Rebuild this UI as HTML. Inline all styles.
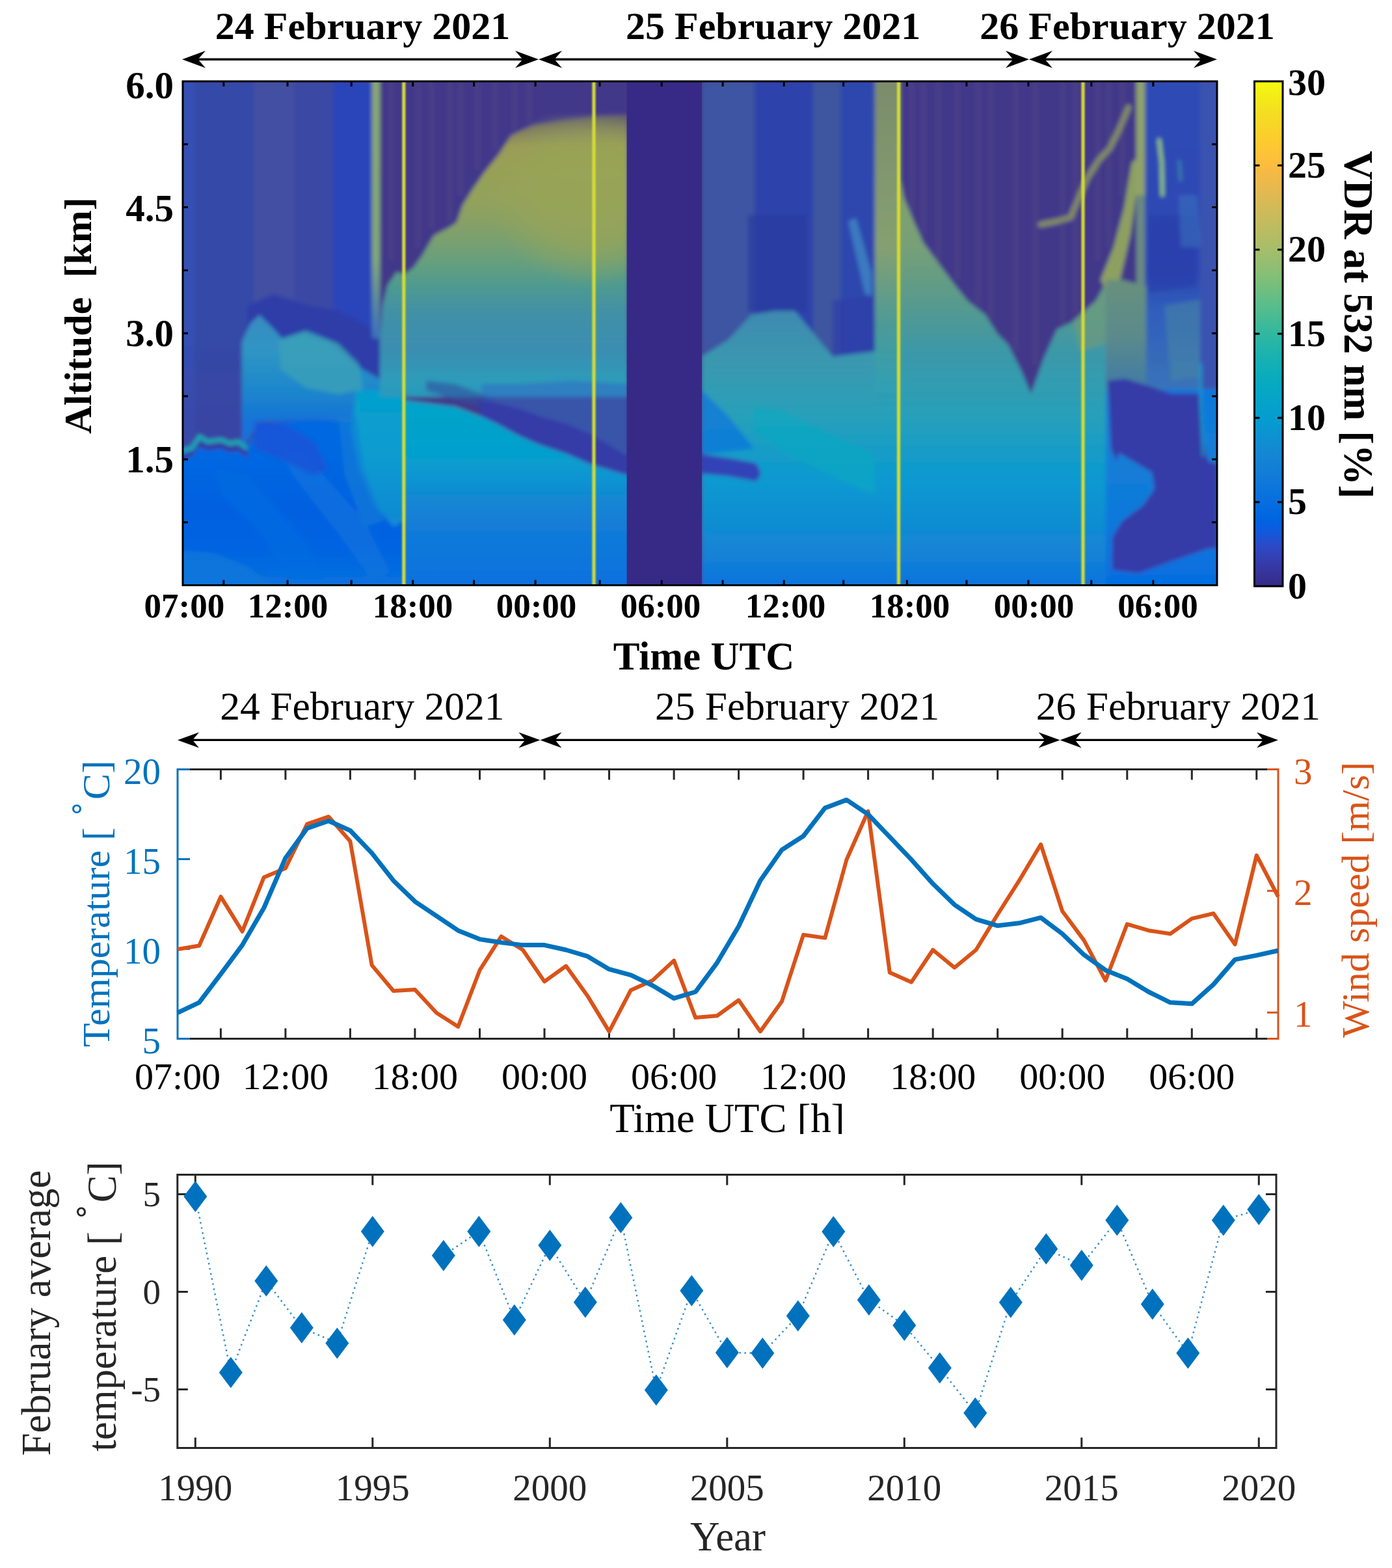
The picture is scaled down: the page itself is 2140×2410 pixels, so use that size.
<!DOCTYPE html>
<html><head><meta charset="utf-8"><title>Figure</title>
<style>html,body{margin:0;padding:0;background:#fff;}svg{display:block;}</style>
</head><body>
<svg width="2140" height="2410" viewBox="0 0 2140 2410" font-family="'Liberation Serif', 'Times New Roman', serif">
<rect width="2140" height="2410" fill="#fff"/>
<defs><linearGradient id="g1" gradientUnits="userSpaceOnUse" x1="0" y1="100" x2="0" y2="690"><stop offset="0.0000" stop-color="#3650b4"/><stop offset="0.6780" stop-color="#3650b4"/><stop offset="1.0000" stop-color="#3848a8"/></linearGradient><linearGradient id="g2" gradientUnits="userSpaceOnUse" x1="0" y1="100" x2="0" y2="690"><stop offset="0.0000" stop-color="#3449a8"/><stop offset="0.6441" stop-color="#3449a8"/><stop offset="1.0000" stop-color="#3a44a2"/></linearGradient><linearGradient id="g3" gradientUnits="userSpaceOnUse" x1="0" y1="480" x2="0" y2="648"><stop offset="0.0000" stop-color="#3a8ac0"/><stop offset="0.3571" stop-color="#2f95c4"/><stop offset="0.7143" stop-color="#1d86cc"/><stop offset="1.0000" stop-color="#1573d8"/></linearGradient><linearGradient id="g4" gradientUnits="userSpaceOnUse" x1="0" y1="640" x2="0" y2="899"><stop offset="0.0000" stop-color="#0269e1"/><stop offset="0.2317" stop-color="#0267e1"/><stop offset="0.5405" stop-color="#0661e0"/><stop offset="0.7722" stop-color="#0363e1"/><stop offset="0.9073" stop-color="#036be0"/><stop offset="1.0000" stop-color="#0a72de"/></linearGradient><linearGradient id="g5" gradientUnits="userSpaceOnUse" x1="0" y1="600" x2="0" y2="800"><stop offset="0.0000" stop-color="#06a0cd"/><stop offset="0.5000" stop-color="#089bd0"/><stop offset="1.0000" stop-color="#128ad3"/></linearGradient><linearGradient id="g6" gradientUnits="userSpaceOnUse" x1="0" y1="100" x2="0" y2="520"><stop offset="0.0000" stop-color="#8aa870"/><stop offset="0.7143" stop-color="#82a878"/><stop offset="1.0000" stop-color="#3a70c0"/></linearGradient><linearGradient id="g7" gradientUnits="userSpaceOnUse" x1="0" y1="176" x2="0" y2="610"><stop offset="0.0000" stop-color="#5a5570"/><stop offset="0.0553" stop-color="#807c62"/><stop offset="0.1129" stop-color="#9a9c56"/><stop offset="0.1935" stop-color="#98a056"/><stop offset="0.3088" stop-color="#92a25c"/><stop offset="0.4009" stop-color="#84a068"/><stop offset="0.5161" stop-color="#68a07c"/><stop offset="0.6083" stop-color="#4e9a90"/><stop offset="0.7005" stop-color="#4290a6"/><stop offset="0.8387" stop-color="#3a8eb2"/><stop offset="0.9424" stop-color="#2e9cba"/><stop offset="1.0000" stop-color="#2a98bc"/></linearGradient><radialGradient id="ycore" gradientUnits="userSpaceOnUse" cx="0" cy="0" r="1" gradientTransform="translate(905,300) scale(150,140)"><stop offset="0" stop-color="#98a558" stop-opacity="0.9"/><stop offset="0.55" stop-color="#98a558" stop-opacity="0.7"/><stop offset="1" stop-color="#98a558" stop-opacity="0"/></radialGradient><linearGradient id="g8" gradientUnits="userSpaceOnUse" x1="0" y1="615" x2="0" y2="899"><stop offset="0.0000" stop-color="#06a4c9"/><stop offset="0.2993" stop-color="#06a0cd"/><stop offset="0.4225" stop-color="#0b95d2"/><stop offset="0.5458" stop-color="#1486d3"/><stop offset="0.6866" stop-color="#127cd8"/><stop offset="0.8275" stop-color="#0f77db"/><stop offset="1.0000" stop-color="#0971de"/></linearGradient><linearGradient id="g9" gradientUnits="userSpaceOnUse" x1="0" y1="478" x2="0" y2="899"><stop offset="0.0000" stop-color="#3d8ab0"/><stop offset="0.1948" stop-color="#3a98b0"/><stop offset="0.3848" stop-color="#28a0ba"/><stop offset="0.6223" stop-color="#0899d1"/><stop offset="0.7648" stop-color="#108ed2"/><stop offset="0.8836" stop-color="#1483d5"/><stop offset="1.0000" stop-color="#0c74dd"/></linearGradient><linearGradient id="g10" gradientUnits="userSpaceOnUse" x1="0" y1="260" x2="0" y2="899"><stop offset="0.0000" stop-color="#8aa068"/><stop offset="0.1878" stop-color="#76a078"/><stop offset="0.3130" stop-color="#5a9a8c"/><stop offset="0.4382" stop-color="#3c98a8"/><stop offset="0.5947" stop-color="#28a0ba"/><stop offset="0.7512" stop-color="#0899d1"/><stop offset="0.8451" stop-color="#108ed2"/><stop offset="0.9233" stop-color="#1483d5"/><stop offset="1.0000" stop-color="#0c74dd"/></linearGradient><linearGradient id="g11" gradientUnits="userSpaceOnUse" x1="0" y1="100" x2="0" y2="600"><stop offset="0.0000" stop-color="#7a8a6c"/><stop offset="0.5600" stop-color="#86a070"/><stop offset="0.8000" stop-color="#4c9a98"/><stop offset="1.0000" stop-color="#30a0b4"/></linearGradient><linearGradient id="g12" gradientUnits="userSpaceOnUse" x1="0" y1="100" x2="0" y2="600"><stop offset="0.0000" stop-color="#2f4cb6"/><stop offset="0.4000" stop-color="#2e4ab4"/><stop offset="0.6400" stop-color="#2c46b0"/><stop offset="0.7400" stop-color="#2f5cbc"/><stop offset="1.0000" stop-color="#3a74b8"/></linearGradient><linearGradient id="g13" gradientUnits="userSpaceOnUse" x1="0" y1="598" x2="0" y2="899"><stop offset="0.0000" stop-color="#0f77db"/><stop offset="0.3389" stop-color="#137ed7"/><stop offset="0.6711" stop-color="#1079da"/><stop offset="0.9037" stop-color="#0871de"/><stop offset="1.0000" stop-color="#056de0"/></linearGradient><linearGradient id="g14" gradientUnits="userSpaceOnUse" x1="0" y1="598" x2="0" y2="899"><stop offset="0.0000" stop-color="#137fd6"/><stop offset="0.3389" stop-color="#137ed7"/><stop offset="0.6711" stop-color="#1079da"/><stop offset="0.9037" stop-color="#0871de"/><stop offset="1.0000" stop-color="#056de0"/></linearGradient><linearGradient id="g15" gradientUnits="userSpaceOnUse" x1="0" y1="430" x2="0" y2="600"><stop offset="0.0000" stop-color="#68907c"/><stop offset="0.5294" stop-color="#5a8a8c"/><stop offset="1.0000" stop-color="#3f7aa8"/></linearGradient><clipPath id="lc"><rect x="281.0" y="125.0" width="1590.0" height="774.5"/></clipPath><filter id="lb" x="-5%" y="-5%" width="110%" height="110%"><feGaussianBlur stdDeviation="3"/></filter><filter id="yb" x="-50%" y="-5%" width="200%" height="110%"><feGaussianBlur stdDeviation="0.9"/></filter></defs>
<g clip-path="url(#lc)"><g filter="url(#lb)">
<rect x="260" y="100" width="1640" height="820" fill="#42398a"/>
<rect x="260" y="100" width="40" height="600" fill="url(#g1)"/>
<rect x="300" y="100" width="90" height="600" fill="url(#g2)"/>
<rect x="390" y="100" width="62" height="420" fill="#4350a3"/>
<rect x="452" y="100" width="60" height="420" fill="#3a48a4"/>
<rect x="512" y="100" width="60" height="420" fill="#2b45ba"/>
<polygon points="380,470 420,452 470,468 520,478 560,498 585,520 585,600 548,580 520,545 480,522 430,522 400,505 380,525" fill="#2d3ca8"/>
<polygon points="372,525 385,497 399,484 420,505 434,521 466,513 505,525 530,545 544,560 583,582 600,600 600,700 548,650 480,645 399,648 372,690" fill="url(#g3)"/>
<polygon points="428,522 470,508 520,528 552,560 558,598 520,606 470,596 432,568" fill="#3aa0b8" opacity="0.85"/>
<polygon points="260,688 380,688 400,650 480,645 548,650 600,640 621,640 621,920 260,920" fill="url(#g4)"/>
<polygon points="430,690 470,700 560,800 600,880 570,890 520,820 450,730" fill="#0c74dd" opacity="0.6"/>
<polygon points="330,720 380,730 470,830 500,899 450,899 400,820 340,760" fill="#056de0" opacity="0.5"/>
<polygon points="260,845 330,850 380,870 420,899 260,920" fill="#0f77db" opacity="0.8"/>
<polygon points="391,648 440,652 484,680 505,722 480,730 430,705 391,690" fill="#1b55d7" opacity="0.9"/>
<polygon points="548,600 621,600 621,800 605,810 575,775 552,720 540,660" fill="url(#g5)"/>
<polygon points="520,640 548,640 560,720 590,800 560,810 530,730" fill="#137fd6" opacity="0.6"/>
<polyline points="281,702 293,698 305,680 319,688 340,685 354,691 366,688 378,697" fill="none" stroke="#3637a1" stroke-width="8" stroke-linejoin="round" stroke-linecap="round"/>
<polyline points="281,693 295,689 307,671 319,679 340,676 354,682 366,679 378,688" fill="none" stroke="#11afb8" stroke-width="6" stroke-linejoin="round" stroke-linecap="round"/>
<rect x="572" y="100" width="12" height="420" fill="url(#g6)"/>
<polygon points="584,520 588,470 596,438 610,418 621,422 635,412 649,393 667,362 690,350 702,342 711,316 726,292 744,266 768,236 786,208 820,192 860,186 910,180 965,176 965,610 584,610" fill="url(#g7)"/>
<polygon points="700,180 965,176 965,450 700,450" fill="url(#ycore)"/>
<polygon points="740,590 800,590 880,585 965,590 965,700 909,684 872,665 830,648 798,636 760,625 740,615" fill="#2f6cc4" opacity="0.55"/>
<polygon points="655,585 700,590 765,615 740,625 700,615 655,600" fill="#3050a0" opacity="0.6"/>
<polygon points="735,615 765,620 798,628 830,640 872,652 909,668 963,700 970,702 970,731 963,730 909,714 872,698 830,684 798,670 765,652 740,640" fill="#363aa7"/>
<polygon points="621,615 700,625 740,640 765,652 798,670 830,684 872,698 909,714 963,730 970,731 970,920 621,920" fill="url(#g8)"/>
<rect x="1079" y="100" width="81" height="460" fill="#3c55a2"/>
<rect x="1160" y="100" width="90" height="420" fill="#2d42ac"/>
<rect x="1250" y="100" width="42" height="460" fill="#3d569f"/>
<rect x="1292" y="100" width="53" height="460" fill="#2f46ae"/>
<polygon points="1150,330 1240,330 1240,480 1150,480" fill="#2a3aa0" opacity="0.7"/>
<polygon points="1304,340 1316,335 1340,420 1340,455 1330,452" fill="#3a7ac0"/>
<polygon points="1280,462 1345,455 1345,548 1280,548" fill="#2d40a8" opacity="0.8"/>
<polygon points="1079,548 1120,522 1155,484 1190,478 1222,478 1241,501 1280,548 1345,540 1345,920 1079,920" fill="url(#g9)"/>
<polygon points="1157,625 1200,630 1345,700 1345,760 1300,742 1200,692 1157,662" fill="#07aac1" opacity="0.6"/>
<polygon points="1079,698 1120,704 1163,712 1170,728 1163,740 1120,732 1079,728" fill="#3342b7"/>
<polygon points="1079,600 1120,640 1160,690 1079,698" fill="#0b73dd" opacity="0.7"/>
<rect x="1345" y="260" width="355" height="660" fill="url(#g10)"/>
<rect x="1345" y="100" width="39" height="500" fill="url(#g11)"/>
<polygon points="1384,100 1752,100 1748,200 1740,260 1730,320 1718,380 1705,425 1685,462 1655,492 1625,506 1605,550 1585,606 1570,570 1550,530 1533,513 1515,484 1488,463 1467,437 1449,413 1420,374 1405,341 1390,305 1384,275" fill="#42398a"/>
<polygon points="1692,430 1700,445 1722,430 1738,360 1748,290 1752,240 1740,250 1728,320 1712,380" fill="#8ea060"/>
<rect x="1747" y="100" width="14" height="200" fill="#90a468"/>
<rect x="1747" y="300" width="14" height="160" fill="#6a8a80"/>
<polygon points="1650,492 1685,462 1700,440 1720,440 1725,520 1660,540" fill="#6a9a80" opacity="0.8"/>
<polyline points="1600,345 1625,340 1646,334 1661,298 1672,273 1690,245 1706,228 1720,200 1735,165" fill="none" stroke="#8a9460" stroke-width="9" stroke-linejoin="round" stroke-linecap="round" stroke-opacity="0.9"/>
<rect x="1760" y="100" width="140" height="500" fill="url(#g12)"/>
<polygon points="1766,330 1838,330 1838,440 1766,450" fill="#2a3ca8" opacity="0.55"/>
<polygon points="1812,300 1840,300 1846,380 1815,380" fill="#3a78c0" opacity="0.5"/>
<polygon points="1790,470 1845,460 1845,580 1800,585" fill="#4a8aa0" opacity="0.5"/>
<rect x="1845" y="100" width="55" height="500" fill="#3a52b0"/>
<polyline points="1782,215 1786,250 1787,300" fill="none" stroke="#9ad060" stroke-width="5" stroke-linejoin="round" stroke-linecap="round"/>
<polyline points="1813,248 1815,277" fill="none" stroke="#3aa0a0" stroke-width="4" stroke-linejoin="round" stroke-linecap="round" stroke-opacity="0.7"/>
<rect x="1762" y="598" width="138" height="322" fill="url(#g13)"/>
<rect x="1700" y="598" width="62" height="322" fill="url(#g14)"/>
<polygon points="1700,430 1725,430 1762,440 1762,600 1700,600" fill="url(#g15)"/>
<polygon points="1703,585 1730,582 1762,592 1800,605 1845,605 1850,676 1858,710 1872,712 1872,843 1858,843 1800,863 1750,881 1710,876 1710,826 1725,801 1758,776 1775,751 1771,726 1720,696 1717,710 1708,690" fill="#363aa7"/>
<polyline points="1846,560 1846,620 1850,700" fill="none" stroke="#06a4c9" stroke-width="4" stroke-linejoin="round" stroke-linecap="round" stroke-opacity="0.8"/>
<rect x="600" y="100" width="3" height="300" fill="#7a7a70" opacity="0.25"/>
<rect x="641" y="100" width="3" height="280" fill="#7a7a70" opacity="0.25"/>
<rect x="662" y="100" width="3" height="250" fill="#7a7a70" opacity="0.25"/>
<rect x="690" y="100" width="3" height="240" fill="#7a7a70" opacity="0.25"/>
<rect x="707" y="100" width="3" height="200" fill="#7a7a70" opacity="0.25"/>
<rect x="733" y="100" width="3" height="160" fill="#7a7a70" opacity="0.25"/>
<rect x="760" y="100" width="3" height="130" fill="#7a7a70" opacity="0.25"/>
<rect x="790" y="100" width="3" height="100" fill="#7a7a70" opacity="0.25"/>
<rect x="812" y="100" width="3" height="90" fill="#7a7a70" opacity="0.25"/>
<rect x="1400" y="100" width="3" height="230" fill="#7a7a70" opacity="0.25"/>
<rect x="1418" y="100" width="3" height="260" fill="#7a7a70" opacity="0.25"/>
<rect x="1441" y="100" width="3" height="300" fill="#7a7a70" opacity="0.25"/>
<rect x="1470" y="100" width="3" height="330" fill="#7a7a70" opacity="0.25"/>
<rect x="1502" y="100" width="3" height="370" fill="#7a7a70" opacity="0.25"/>
<rect x="1522" y="100" width="3" height="390" fill="#7a7a70" opacity="0.25"/>
<rect x="1560" y="100" width="3" height="440" fill="#7a7a70" opacity="0.25"/>
<rect x="1590" y="100" width="3" height="460" fill="#7a7a70" opacity="0.25"/>
<rect x="1632" y="100" width="3" height="400" fill="#7a7a70" opacity="0.25"/>
<rect x="1652" y="100" width="3" height="380" fill="#7a7a70" opacity="0.25"/>
<rect x="1686" y="100" width="3" height="300" fill="#7a7a70" opacity="0.25"/>
<rect x="1703" y="100" width="3" height="280" fill="#7a7a70" opacity="0.25"/>
<rect x="1724" y="100" width="3" height="200" fill="#7a7a70" opacity="0.25"/>
</g>
<rect x="963.6" y="125.0" width="115.39999999999998" height="774.5" fill="#372a87"/>
<g filter="url(#yb)"><rect x="618.1999999999999" y="115.0" width="5.2" height="794.5" fill="#d4dc36"/><rect x="910.4" y="115.0" width="5.2" height="794.5" fill="#d4dc36"/><rect x="1378.9" y="115.0" width="5.2" height="794.5" fill="#d4dc36"/><rect x="1662.4" y="115.0" width="5.2" height="794.5" fill="#d4dc36"/></g></g>
<rect x="281.0" y="125.0" width="1590.0" height="774.5" fill="none" stroke="#000" stroke-width="3"/>
<path d="M343.8,125.0v8M343.8,899.5v-8M442.0,125.0v8M442.0,899.5v-8M540.2,125.0v8M540.2,899.5v-8M634.7,125.0v8M634.7,899.5v-8M728.6,125.0v8M728.6,899.5v-8M823.1,125.0v8M823.1,899.5v-8M922.0,125.0v8M922.0,899.5v-8M1017.2,125.0v8M1017.2,899.5v-8M1111.1,125.0v8M1111.1,899.5v-8M1205.2,125.0v8M1205.2,899.5v-8M1296.7,125.0v8M1296.7,899.5v-8M1394.4,125.0v8M1394.4,899.5v-8M1485.9,125.0v8M1485.9,899.5v-8M1581.0,125.0v8M1581.0,899.5v-8M1677.8,125.0v8M1677.8,899.5v-8M1772.9,125.0v8M1772.9,899.5v-8M281.0,802.7h8M1871.0,802.7h-8M281.0,705.9h8M1871.0,705.9h-8M281.0,609.1h8M1871.0,609.1h-8M281.0,512.2h8M1871.0,512.2h-8M281.0,415.4h8M1871.0,415.4h-8M281.0,318.6h8M1871.0,318.6h-8M281.0,221.8h8M1871.0,221.8h-8" stroke="#000" stroke-width="3" fill="none"/>
<text x="283.4" y="949" font-size="53" font-weight="bold" text-anchor="middle">07:00</text>
<text x="442.5" y="949" font-size="53" font-weight="bold" text-anchor="middle">12:00</text>
<text x="634.5" y="949" font-size="53" font-weight="bold" text-anchor="middle">18:00</text>
<text x="824.5" y="949" font-size="53" font-weight="bold" text-anchor="middle">00:00</text>
<text x="1015.5" y="949" font-size="53" font-weight="bold" text-anchor="middle">06:00</text>
<text x="1207.5" y="949" font-size="53" font-weight="bold" text-anchor="middle">12:00</text>
<text x="1398.5" y="949" font-size="53" font-weight="bold" text-anchor="middle">18:00</text>
<text x="1589.5" y="949" font-size="53" font-weight="bold" text-anchor="middle">00:00</text>
<text x="1780.0" y="949" font-size="53" font-weight="bold" text-anchor="middle">06:00</text>
<text x="267" y="150.5" font-size="59" font-weight="bold" text-anchor="end">6.0</text>
<text x="267" y="339.5" font-size="59" font-weight="bold" text-anchor="end">4.5</text>
<text x="267" y="532.0" font-size="59" font-weight="bold" text-anchor="end">3.0</text>
<text x="267" y="725.8" font-size="59" font-weight="bold" text-anchor="end">1.5</text>
<text x="1082" y="1028.5" font-size="61" font-weight="bold" text-anchor="middle">Time UTC</text>
<text transform="translate(140,485) rotate(-90)" x="0" y="0" font-size="60" font-weight="bold" text-anchor="middle" xml:space="preserve">Altitude  [km]</text>
<text x="557.5" y="60" font-size="60" font-weight="bold" text-anchor="middle">24 February 2021</text>
<text x="1188.7" y="60" font-size="60" font-weight="bold" text-anchor="middle">25 February 2021</text>
<text x="1733" y="60" font-size="60" font-weight="bold" text-anchor="middle">26 February 2021</text>
<line x1="290.0" y1="91.25" x2="818.0" y2="91.25" stroke="#000" stroke-width="3.4"/>
<polygon points="280.0,91.2 316.0,78.0 304.4,91.2 316.0,104.5" fill="#000"/>
<polygon points="828.0,91.2 792.0,78.0 803.6,91.2 792.0,104.5" fill="#000"/>
<line x1="838.0" y1="91.25" x2="1572.0" y2="91.25" stroke="#000" stroke-width="3.4"/>
<polygon points="828.0,91.2 864.0,78.0 852.4,91.2 864.0,104.5" fill="#000"/>
<polygon points="1582.0,91.2 1546.0,78.0 1557.6,91.2 1546.0,104.5" fill="#000"/>
<line x1="1592.0" y1="91.25" x2="1861.0" y2="91.25" stroke="#000" stroke-width="3.4"/>
<polygon points="1582.0,91.2 1618.0,78.0 1606.4,91.2 1618.0,104.5" fill="#000"/>
<polygon points="1871.0,91.2 1835.0,78.0 1846.6,91.2 1835.0,104.5" fill="#000"/>
<defs><linearGradient id="cbg" x1="0" y1="1" x2="0" y2="0"><stop offset="0.0000" stop-color="#352a86"/><stop offset="0.0159" stop-color="#353093"/><stop offset="0.0317" stop-color="#36369f"/><stop offset="0.0476" stop-color="#353cac"/><stop offset="0.0635" stop-color="#3143b9"/><stop offset="0.0794" stop-color="#2b4ac6"/><stop offset="0.0952" stop-color="#1f52d3"/><stop offset="0.1111" stop-color="#0f5bdd"/><stop offset="0.1270" stop-color="#0262e0"/><stop offset="0.1429" stop-color="#0168e1"/><stop offset="0.1587" stop-color="#046ce0"/><stop offset="0.1746" stop-color="#0870de"/><stop offset="0.1905" stop-color="#0c74dc"/><stop offset="0.2063" stop-color="#1078da"/><stop offset="0.2222" stop-color="#127cd7"/><stop offset="0.2381" stop-color="#1380d5"/><stop offset="0.2540" stop-color="#1484d3"/><stop offset="0.2698" stop-color="#1389d2"/><stop offset="0.2857" stop-color="#108ed2"/><stop offset="0.3016" stop-color="#0c93d1"/><stop offset="0.3175" stop-color="#0898d1"/><stop offset="0.3333" stop-color="#069ccf"/><stop offset="0.3492" stop-color="#06a0cc"/><stop offset="0.3651" stop-color="#05a3c9"/><stop offset="0.3810" stop-color="#05a6c6"/><stop offset="0.3968" stop-color="#06a9c1"/><stop offset="0.4127" stop-color="#09abbd"/><stop offset="0.4286" stop-color="#0faeb8"/><stop offset="0.4444" stop-color="#15b0b4"/><stop offset="0.4603" stop-color="#1cb2ae"/><stop offset="0.4762" stop-color="#25b4a9"/><stop offset="0.4921" stop-color="#2db7a3"/><stop offset="0.5079" stop-color="#37b89d"/><stop offset="0.5238" stop-color="#41ba97"/><stop offset="0.5397" stop-color="#4dbc91"/><stop offset="0.5556" stop-color="#58bd8b"/><stop offset="0.5714" stop-color="#64be85"/><stop offset="0.5873" stop-color="#70be80"/><stop offset="0.6032" stop-color="#7cbf7b"/><stop offset="0.6190" stop-color="#87bf76"/><stop offset="0.6349" stop-color="#91be72"/><stop offset="0.6508" stop-color="#9bbe6e"/><stop offset="0.6667" stop-color="#a5be6a"/><stop offset="0.6825" stop-color="#aebd67"/><stop offset="0.6984" stop-color="#b7bc63"/><stop offset="0.7143" stop-color="#bfbc60"/><stop offset="0.7302" stop-color="#c8bb5c"/><stop offset="0.7460" stop-color="#d0ba59"/><stop offset="0.7619" stop-color="#d8ba55"/><stop offset="0.7778" stop-color="#e1b952"/><stop offset="0.7937" stop-color="#e9b94e"/><stop offset="0.8095" stop-color="#f0b949"/><stop offset="0.8254" stop-color="#f8ba43"/><stop offset="0.8413" stop-color="#fdbe3d"/><stop offset="0.8571" stop-color="#fec337"/><stop offset="0.8730" stop-color="#fdc832"/><stop offset="0.8889" stop-color="#fbcd2d"/><stop offset="0.9048" stop-color="#f9d229"/><stop offset="0.9206" stop-color="#f7d825"/><stop offset="0.9365" stop-color="#f5dd21"/><stop offset="0.9524" stop-color="#f4e41c"/><stop offset="0.9683" stop-color="#f4eb18"/><stop offset="0.9841" stop-color="#f6f213"/><stop offset="1.0000" stop-color="#f8fa0d"/></linearGradient></defs>
<rect x="1928.5" y="125.0" width="43.5" height="776.0" fill="url(#cbg)" stroke="#000" stroke-width="3"/>
<path d="M1928.5,771.7h8M1972.0,771.7h-8M1928.5,642.3h8M1972.0,642.3h-8M1928.5,513.0h8M1972.0,513.0h-8M1928.5,383.7h8M1972.0,383.7h-8M1928.5,254.3h8M1972.0,254.3h-8" stroke="#000" stroke-width="3"/>
<text x="1980" y="919.5" font-size="58" font-weight="bold">0</text>
<text x="1980" y="790.2" font-size="58" font-weight="bold">5</text>
<text x="1980" y="660.8" font-size="58" font-weight="bold">10</text>
<text x="1980" y="531.5" font-size="58" font-weight="bold">15</text>
<text x="1980" y="402.2" font-size="58" font-weight="bold">20</text>
<text x="1980" y="272.8" font-size="58" font-weight="bold">25</text>
<text x="1980" y="146.0" font-size="58" font-weight="bold">30</text>
<text transform="translate(2067,499) rotate(90)" x="0" y="0" font-size="62.5" font-weight="bold" text-anchor="middle">VDR at 532 nm [%]</text>
<text x="557" y="1106" font-size="61.5" text-anchor="middle">24 February 2021</text>
<text x="1225.6" y="1106" font-size="61.5" text-anchor="middle">25 February 2021</text>
<text x="1811.5" y="1106" font-size="61.5" text-anchor="middle">26 February 2021</text>
<line x1="283.0" y1="1137.4" x2="820.4" y2="1137.4" stroke="#000" stroke-width="3.4"/>
<polygon points="273.0,1137.4 306.0,1125.4 296.0,1137.4 306.0,1149.4" fill="#000"/>
<polygon points="830.4,1137.4 797.4,1125.4 807.4,1137.4 797.4,1149.4" fill="#000"/>
<line x1="840.4" y1="1137.4" x2="1619.6" y2="1137.4" stroke="#000" stroke-width="3.4"/>
<polygon points="830.4,1137.4 863.4,1125.4 853.4,1137.4 863.4,1149.4" fill="#000"/>
<polygon points="1629.6,1137.4 1596.6,1125.4 1606.6,1137.4 1596.6,1149.4" fill="#000"/>
<line x1="1639.6" y1="1137.4" x2="1955.0" y2="1137.4" stroke="#000" stroke-width="3.4"/>
<polygon points="1629.6,1137.4 1662.6,1125.4 1652.6,1137.4 1662.6,1149.4" fill="#000"/>
<polygon points="1965.0,1137.4 1932.0,1125.4 1942.0,1137.4 1932.0,1149.4" fill="#000"/>
<path d="M292.0,1182.5H1948.0M292.0,1596.5H1948.0" stroke="#262626" stroke-width="3" fill="none"/>
<path d="M292.0,1182.5H273.0V1596.5H292.0" stroke="#0072bd" stroke-width="3" fill="none"/>
<path d="M1948.0,1182.5H1965.0V1596.5H1948.0" stroke="#d95319" stroke-width="3" fill="none"/>
<path d="M339.4,1182.5v16M339.4,1596.5v-16M438.9,1182.5v16M438.9,1596.5v-16M538.4,1182.5v16M538.4,1596.5v-16M637.9,1182.5v16M637.9,1596.5v-16M737.5,1182.5v16M737.5,1596.5v-16M837.0,1182.5v16M837.0,1596.5v-16M936.5,1182.5v16M936.5,1596.5v-16M1036.1,1182.5v16M1036.1,1596.5v-16M1135.6,1182.5v16M1135.6,1596.5v-16M1235.1,1182.5v16M1235.1,1596.5v-16M1334.6,1182.5v16M1334.6,1596.5v-16M1434.2,1182.5v16M1434.2,1596.5v-16M1533.7,1182.5v16M1533.7,1596.5v-16M1633.2,1182.5v16M1633.2,1596.5v-16M1732.8,1182.5v16M1732.8,1596.5v-16M1832.3,1182.5v16M1832.3,1596.5v-16M1931.8,1182.5v16M1931.8,1596.5v-16" stroke="#262626" stroke-width="3" fill="none"/>
<path d="M273.0,1320.5h19M273.0,1458.5h19" stroke="#0072bd" stroke-width="3"/>
<path d="M1965.0,1369.3h-17M1965.0,1556.2h-17" stroke="#d95319" stroke-width="3"/>
<polyline points="273.0,1459.0 306.2,1453.5 339.4,1378.2 372.5,1431.7 405.7,1348.4 438.9,1334.5 472.1,1266.6 505.2,1255.2 538.4,1292.9 571.6,1483.3 604.8,1523.0 637.9,1521.0 671.1,1556.7 704.3,1578.0 737.5,1491.2 770.6,1439.2 803.8,1460.0 837.0,1508.6 870.2,1484.8 903.4,1530.9 936.5,1585.4 969.7,1522.0 1002.9,1507.1 1036.1,1476.4 1069.2,1564.1 1102.4,1561.2 1135.6,1537.3 1168.8,1585.4 1201.9,1539.3 1235.1,1436.7 1268.3,1441.6 1301.5,1321.2 1334.6,1246.8 1367.8,1494.7 1401.0,1509.6 1434.2,1460.0 1467.4,1487.3 1500.5,1460.0 1533.7,1405.5 1566.9,1353.4 1600.1,1297.8 1633.2,1400.5 1666.4,1445.1 1699.6,1507.1 1732.8,1420.3 1765.9,1430.2 1799.1,1435.2 1832.3,1411.9 1865.5,1404.0 1898.6,1451.6 1931.8,1314.7 1965.0,1378.2" fill="none" stroke="#d95319" stroke-width="6" stroke-linejoin="round"/>
<polyline points="273.0,1556.7 306.2,1540.8 339.4,1497.2 372.5,1452.6 405.7,1395.5 438.9,1318.7 472.1,1273.1 505.2,1261.7 538.4,1276.5 571.6,1311.2 604.8,1353.4 637.9,1385.6 671.1,1407.9 704.3,1430.2 737.5,1443.6 770.6,1448.6 803.8,1452.6 837.0,1452.6 870.2,1460.0 903.4,1469.9 936.5,1489.7 969.7,1498.7 1002.9,1514.5 1036.1,1534.4 1069.2,1524.5 1102.4,1479.8 1135.6,1423.8 1168.8,1353.4 1201.9,1306.3 1235.1,1285.0 1268.3,1241.8 1301.5,1229.4 1334.6,1251.7 1367.8,1286.4 1401.0,1321.2 1434.2,1358.3 1467.4,1390.6 1500.5,1412.9 1533.7,1422.8 1566.9,1418.8 1600.1,1410.4 1633.2,1435.2 1666.4,1467.4 1699.6,1491.2 1732.8,1504.6 1765.9,1524.5 1799.1,1540.8 1832.3,1542.8 1865.5,1513.1 1898.6,1474.9 1931.8,1468.4 1965.0,1461.0" fill="none" stroke="#0072bd" stroke-width="7" stroke-linejoin="round"/>
<text x="273.0" y="1673.5" font-size="58" text-anchor="middle">07:00</text>
<text x="438.9" y="1673.5" font-size="58" text-anchor="middle">12:00</text>
<text x="637.9" y="1673.5" font-size="58" text-anchor="middle">18:00</text>
<text x="837.0" y="1673.5" font-size="58" text-anchor="middle">00:00</text>
<text x="1036.1" y="1673.5" font-size="58" text-anchor="middle">06:00</text>
<text x="1235.1" y="1673.5" font-size="58" text-anchor="middle">12:00</text>
<text x="1434.2" y="1673.5" font-size="58" text-anchor="middle">18:00</text>
<text x="1633.2" y="1673.5" font-size="58" text-anchor="middle">00:00</text>
<text x="1832.3" y="1673.5" font-size="58" text-anchor="middle">06:00</text>
<text x="247" y="1618.5" font-size="57" text-anchor="end" fill="#0072bd">5</text>
<text x="247" y="1480.5" font-size="57" text-anchor="end" fill="#0072bd">10</text>
<text x="247" y="1342.5" font-size="57" text-anchor="end" fill="#0072bd">15</text>
<text x="247" y="1204.5" font-size="57" text-anchor="end" fill="#0072bd">20</text>
<text x="1989" y="1578.2" font-size="57" fill="#d95319">1</text>
<text x="1989" y="1391.3" font-size="57" fill="#d95319">2</text>
<text x="1989" y="1204.5" font-size="57" fill="#d95319">3</text>
<text transform="translate(168,1389) rotate(-90)" font-size="60" text-anchor="middle" fill="#0072bd">Temperature [ <tspan dy="-36" font-size="44">&#8728;</tspan><tspan dy="36">C]</tspan></text>
<text transform="translate(2104,1383) rotate(-90)" font-size="60" text-anchor="middle" fill="#d95319">Wind speed [m/s]</text>
<defs><clipPath id="c2"><rect x="0" y="1600" width="2140" height="143"/></clipPath></defs>
<text x="1118" y="1740" font-size="63" text-anchor="middle" clip-path="url(#c2)">Time UTC [h]</text>
<rect x="272.8" y="1805.5" width="1689.2" height="420.0" fill="none" stroke="#262626" stroke-width="3"/>
<path d="M300.3,1805.5v16M300.3,2225.5v-16M572.8,1805.5v16M572.8,2225.5v-16M845.3,1805.5v16M845.3,2225.5v-16M1117.8,1805.5v16M1117.8,2225.5v-16M1390.3,1805.5v16M1390.3,2225.5v-16M1662.8,1805.5v16M1662.8,2225.5v-16M1935.3,1805.5v16M1935.3,2225.5v-16M272.8,2135.5h16M1962.0,2135.5h-16M272.8,1985.5h16M1962.0,1985.5h-16M272.8,1835.5h16M1962.0,1835.5h-16" stroke="#262626" stroke-width="3" fill="none"/>
<polyline points="300.3,1839.1 354.8,2109.4 409.3,1968.7 463.8,2040.7 518.3,2064.4 572.8,1892.8" fill="none" stroke="#0072bd" stroke-width="2.5" stroke-dasharray="2.5 5.5" stroke-opacity="0.8"/>
<polyline points="681.8,1929.7 736.3,1892.8 790.8,2028.7 845.3,1914.1 899.8,2001.4 954.3,1871.5 1008.8,2136.4 1063.3,1983.7 1117.8,2079.1 1172.3,2079.7 1226.8,2022.4 1281.3,1893.1 1335.8,1998.1 1390.3,2037.1 1444.8,2102.5 1499.3,2171.8 1553.8,2001.7 1608.3,1919.5 1662.8,1944.7 1717.3,1875.4 1771.8,2004.4 1826.3,2079.7 1880.8,1875.4 1935.3,1858.9" fill="none" stroke="#0072bd" stroke-width="2.5" stroke-dasharray="2.5 5.5" stroke-opacity="0.8"/>
<polygon points="300.3,1815.1 318.3,1839.1 300.3,1863.1 282.3,1839.1" fill="#0072bd"/>
<polygon points="354.8,2085.4 372.8,2109.4 354.8,2133.4 336.8,2109.4" fill="#0072bd"/>
<polygon points="409.3,1944.7 427.3,1968.7 409.3,1992.7 391.3,1968.7" fill="#0072bd"/>
<polygon points="463.8,2016.7 481.8,2040.7 463.8,2064.7 445.8,2040.7" fill="#0072bd"/>
<polygon points="518.3,2040.4 536.3,2064.4 518.3,2088.4 500.3,2064.4" fill="#0072bd"/>
<polygon points="572.8,1868.8 590.8,1892.8 572.8,1916.8 554.8,1892.8" fill="#0072bd"/>
<polygon points="681.8,1905.7 699.8,1929.7 681.8,1953.7 663.8,1929.7" fill="#0072bd"/>
<polygon points="736.3,1868.8 754.3,1892.8 736.3,1916.8 718.3,1892.8" fill="#0072bd"/>
<polygon points="790.8,2004.7 808.8,2028.7 790.8,2052.7 772.8,2028.7" fill="#0072bd"/>
<polygon points="845.3,1890.1 863.3,1914.1 845.3,1938.1 827.3,1914.1" fill="#0072bd"/>
<polygon points="899.8,1977.4 917.8,2001.4 899.8,2025.4 881.8,2001.4" fill="#0072bd"/>
<polygon points="954.3,1847.5 972.3,1871.5 954.3,1895.5 936.3,1871.5" fill="#0072bd"/>
<polygon points="1008.8,2112.4 1026.8,2136.4 1008.8,2160.4 990.8,2136.4" fill="#0072bd"/>
<polygon points="1063.3,1959.7 1081.3,1983.7 1063.3,2007.7 1045.3,1983.7" fill="#0072bd"/>
<polygon points="1117.8,2055.1 1135.8,2079.1 1117.8,2103.1 1099.8,2079.1" fill="#0072bd"/>
<polygon points="1172.3,2055.7 1190.3,2079.7 1172.3,2103.7 1154.3,2079.7" fill="#0072bd"/>
<polygon points="1226.8,1998.4 1244.8,2022.4 1226.8,2046.4 1208.8,2022.4" fill="#0072bd"/>
<polygon points="1281.3,1869.1 1299.3,1893.1 1281.3,1917.1 1263.3,1893.1" fill="#0072bd"/>
<polygon points="1335.8,1974.1 1353.8,1998.1 1335.8,2022.1 1317.8,1998.1" fill="#0072bd"/>
<polygon points="1390.3,2013.1 1408.3,2037.1 1390.3,2061.1 1372.3,2037.1" fill="#0072bd"/>
<polygon points="1444.8,2078.5 1462.8,2102.5 1444.8,2126.5 1426.8,2102.5" fill="#0072bd"/>
<polygon points="1499.3,2147.8 1517.3,2171.8 1499.3,2195.8 1481.3,2171.8" fill="#0072bd"/>
<polygon points="1553.8,1977.7 1571.8,2001.7 1553.8,2025.7 1535.8,2001.7" fill="#0072bd"/>
<polygon points="1608.3,1895.5 1626.3,1919.5 1608.3,1943.5 1590.3,1919.5" fill="#0072bd"/>
<polygon points="1662.8,1920.7 1680.8,1944.7 1662.8,1968.7 1644.8,1944.7" fill="#0072bd"/>
<polygon points="1717.3,1851.4 1735.3,1875.4 1717.3,1899.4 1699.3,1875.4" fill="#0072bd"/>
<polygon points="1771.8,1980.4 1789.8,2004.4 1771.8,2028.4 1753.8,2004.4" fill="#0072bd"/>
<polygon points="1826.3,2055.7 1844.3,2079.7 1826.3,2103.7 1808.3,2079.7" fill="#0072bd"/>
<polygon points="1880.8,1851.4 1898.8,1875.4 1880.8,1899.4 1862.8,1875.4" fill="#0072bd"/>
<polygon points="1935.3,1834.9 1953.3,1858.9 1935.3,1882.9 1917.3,1858.9" fill="#0072bd"/>
<text x="300.3" y="2305.5" font-size="57" text-anchor="middle" fill="#262626">1990</text>
<text x="572.8" y="2305.5" font-size="57" text-anchor="middle" fill="#262626">1995</text>
<text x="845.3" y="2305.5" font-size="57" text-anchor="middle" fill="#262626">2000</text>
<text x="1117.8" y="2305.5" font-size="57" text-anchor="middle" fill="#262626">2005</text>
<text x="1390.3" y="2305.5" font-size="57" text-anchor="middle" fill="#262626">2010</text>
<text x="1662.8" y="2305.5" font-size="57" text-anchor="middle" fill="#262626">2015</text>
<text x="1935.3" y="2305.5" font-size="57" text-anchor="middle" fill="#262626">2020</text>
<text x="247" y="2154.0" font-size="55" text-anchor="end" fill="#262626">-5</text>
<text x="247" y="2004.0" font-size="55" text-anchor="end" fill="#262626">0</text>
<text x="247" y="1854.0" font-size="55" text-anchor="end" fill="#262626">5</text>
<text x="1119" y="2382.5" font-size="63" text-anchor="middle" fill="#262626">Year</text>
<text transform="translate(77,2018) rotate(-90)" font-size="63" text-anchor="middle" fill="#262626">February average</text>
<text transform="translate(178,2008) rotate(-90)" font-size="63" text-anchor="middle" fill="#262626">temperature [ <tspan dy="-38" font-size="46">&#8728;</tspan><tspan dy="38">C]</tspan></text>
</svg>
</body></html>
